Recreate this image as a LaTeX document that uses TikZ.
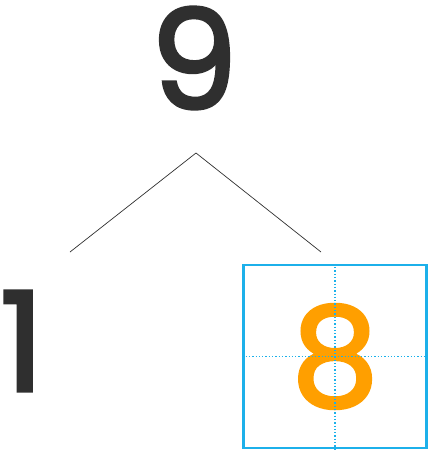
\documentclass[tikz,border=0pt]{standalone}
\usepackage{fontspec}
\setmainfont{Poppins}
\newfontfamily\digitfont{Poppins}[FakeBold=2.5]
\usetikzlibrary{calc, positioning}

\definecolor{inkgray}{HTML}{2F2F2F}
\definecolor{digitorange}{HTML}{FF9F00}
\definecolor{gridblue}{HTML}{1CB0EA}

\tikzset{
  digit/.style={inner sep=0pt, text=inkgray, font=\digitfont\fontsize{138}{138}\selectfont},
  branch/.style={draw=inkgray, line width=0.7pt},
  gridbox/.style={draw=gridblue, line width=2.4pt, minimum size=183pt, inner sep=0pt},
  guide/.style={draw=gridblue, line width=1.3pt, dotted}
}

\begin{document}
\begin{tikzpicture}[x=1pt, y=-1pt]
\useasboundingbox (0,0) rectangle (432,450);

\coordinate (apex) at (196,153);
\coordinate (lft) at (70,252);
\coordinate (rgt) at (321,252);

\node[digit] (nine) at (194,58) {9};
\node[digit] (one) at (22,341) {1};

\node[gridbox] (box) at (335,356.5) {};
\node[digit, text=digitorange] (eight) at (box.center) {8};
\draw[guide] (box.north) -- (box.south);
\draw[guide] (box.west) -- (box.east);

\draw[branch] (apex) -- (lft);
\draw[branch] (apex) -- (rgt);
\end{tikzpicture}
\end{document}
